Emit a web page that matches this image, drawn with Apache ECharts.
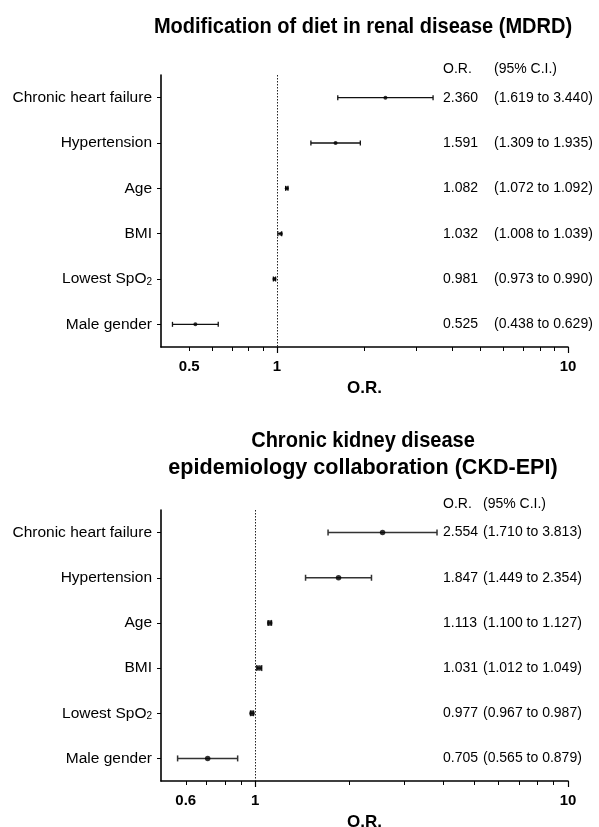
<!DOCTYPE html>
<html><head><meta charset="utf-8">
<script src="https://cdn.jsdelivr.net/npm/echarts@6/dist/echarts.min.js"></script>
<style>html,body{margin:0;padding:0;background:#fff}#c{width:599px;height:827px}</style>
</head><body><div id="c"></div>
<script>
// ---- data ----
const categories = ['Chronic heart failure', 'Hypertension', 'Age', 'BMI', 'Lowest SpO2', 'Male gender'];
const mdrdOR   = [2.360, 1.591, 1.082, 1.032, 0.981, 0.525];
const mdrdLow  = [1.619, 1.309, 1.072, 1.008, 0.973, 0.438];
const mdrdHigh = [3.440, 1.935, 1.092, 1.039, 0.990, 0.629];
const ckdOR    = [2.554, 1.847, 1.113, 1.031, 0.977, 0.705];
const ckdLow   = [1.710, 1.449, 1.100, 1.012, 0.967, 0.565];
const ckdHigh  = [3.813, 2.354, 1.127, 1.049, 0.987, 0.879];
const mdrdTickLabels = [0.5, 1, 10];
const mdrdMinorTicks = [0.5, 0.6, 0.7, 0.8, 0.9, 2, 3, 4, 5, 6, 7, 8, 9];
const ckdTickLabels  = [0.6, 1, 10];
const ckdMinorTicks  = [0.6, 0.7, 0.8, 0.9, 2, 3, 4, 5, 6, 7, 8, 9];
const majorTicks = [1, 10];
const titleTop = 'Modification of diet in renal disease (MDRD)';
const titleBottom = ['Chronic kidney disease', 'epidemiology collaboration (CKD-EPI)'];

const FONT = '"Liberation Sans", Arial, Helvetica, sans-serif';
const fmt = v => v.toFixed(3);

const chart = echarts.init(document.getElementById('c'), null, {renderer: 'canvas'});

function errorBars(xi, yi, lows, highs, cap, lw, color) {
  return {
    type: 'custom', xAxisIndex: xi, yAxisIndex: yi, silent: true, z: 3,
    data: categories.map((c, i) => [lows[i], highs[i], i]),
    encode: {x: [0, 1], y: 2},
    renderItem(params, api) {
      const y = api.value(2);
      const a = api.coord([api.value(0), y]);
      const b = api.coord([api.value(1), y]);
      const h = cap / 2;
      const style = {stroke: color, lineWidth: lw, fill: null};
      return {type: 'group', children: [
        {type: 'line', shape: {x1: a[0], y1: a[1], x2: b[0], y2: b[1]}, style},
        {type: 'line', shape: {x1: a[0], y1: a[1] - h, x2: a[0], y2: a[1] + h}, style},
        {type: 'line', shape: {x1: b[0], y1: b[1] - h, x2: b[0], y2: b[1] + h}, style}
      ]};
    }
  };
}
function points(xi, yi, vals, size) {
  return {
    type: 'scatter', xAxisIndex: xi, yAxisIndex: yi, symbol: 'circle', symbolSize: size, z: 4,
    itemStyle: {color: '#000'}, silent: true,
    data: categories.map((c, i) => [vals[i], i]),
    markLine: {
      silent: true, symbol: ['none', 'none'], label: {show: false},
      lineStyle: {type: [1.5, 1.5], color: '#222', width: 1},
      data: [{xAxis: 1}]
    }
  };
}
function mainX(grid, min, minor, labels) {
  return {
    type: 'log', logBase: 10, gridIndex: grid, min: min, max: 10, position: 'bottom',
    splitLine: {show: false},
    axisLine: {show: true, lineStyle: {color: '#000', width: 1.6}},
    axisTick: {show: true, customValues: minor, length: 4, lineStyle: {color: '#000', width: 1}},
    axisLabel: {show: true, customValues: labels, margin: 12, fontFamily: FONT, fontWeight: 'bold', fontSize: 15, color: '#000'},
    name: 'O.R.', nameLocation: 'middle', nameGap: 33,
    nameTextStyle: {fontFamily: FONT, fontWeight: 'bold', fontSize: 17, color: '#000'}
  };
}
function majorX(grid, min) {
  return {
    type: 'log', logBase: 10, gridIndex: grid, min: min, max: 10, position: 'bottom', offset: 0,
    splitLine: {show: false}, axisLine: {show: false},
    axisTick: {show: true, customValues: majorTicks, length: 6, lineStyle: {color: '#000', width: 1.2}},
    axisLabel: {show: false}
  };
}
const catLabel = v => v.replace('SpO2', 'SpO{sub|2}');
function leftY(grid) {
  return {
    type: 'category', gridIndex: grid, data: categories, inverse: true,
    axisLine: {show: true, lineStyle: {color: '#000', width: 1.6}},
    axisTick: {show: true, alignWithLabel: true, length: 4, lineStyle: {color: '#000'}},
    splitLine: {show: false},
    axisLabel: {margin: 9, color: '#000', fontFamily: FONT, fontSize: 15.5, formatter: catLabel,
      rich: {sub: {fontFamily: FONT, fontSize: 10, lineHeight: 10, verticalAlign: 'bottom', color: '#000'}}}
  };
}
function rightY(grid, ors, lows, highs, gapW, offset) {
  const rich = {
    a: {fontFamily: FONT, fontSize: 14, color: '#000', width: gapW},
    b: {fontFamily: FONT, fontSize: 14, color: '#000'}
  };
  return {
    type: 'category', gridIndex: grid, data: categories, inverse: true, position: 'right', offset: offset,
    axisLine: {show: false}, axisTick: {show: false}, splitLine: {show: false},
    axisLabel: {margin: 0, align: 'left', formatter: (v, i) => '{a|' + fmt(ors[i]) + '}{b|(' + fmt(lows[i]) + ' to ' + fmt(highs[i]) + ')}', rich},
    name: '{a|O.R.}{b|(95% C.I.)}', nameLocation: 'start', nameGap: -1,
    nameTextStyle: {align: 'left', verticalAlign: 'bottom', rich}
  };
}
const TITLE_FONT = 'bold 22px ' + FONT;
function titleText(text, y, sx) {
  return {type: 'text', x: 363, y: y, scaleX: sx,
    style: {text: text, font: TITLE_FONT, fill: '#000', textAlign: 'center', textVerticalAlign: 'middle'}};
}
const option = {
  animation: false,
  backgroundColor: '#fff',
  textStyle: {fontFamily: FONT},
  grid: [
    {left: 161, right: 31, top: 75, height: 272, outerBoundsMode: 'none'},
    {left: 161, right: 31, top: 510, height: 271, outerBoundsMode: 'none'}
  ],
  xAxis: [mainX(0, 0.4, mdrdMinorTicks, mdrdTickLabels), majorX(0, 0.4),
          mainX(1, 0.5, ckdMinorTicks, ckdTickLabels), majorX(1, 0.5)],
  yAxis: [leftY(0), rightY(0, mdrdOR, mdrdLow, mdrdHigh, 51, -125),
          leftY(1), rightY(1, ckdOR, ckdLow, ckdHigh, 40, -125)],
  series: [
    errorBars(0, 0, mdrdLow, mdrdHigh, 5, 1.3, '#111'),
    points(0, 0, mdrdOR, 4),
    errorBars(2, 2, ckdLow, ckdHigh, 6, 1.5, '#333'),
    points(2, 2, ckdOR, 5.5)
  ],
  graphic: [
    titleText(titleTop, 27, 0.91),
    titleText(titleBottom[0], 441, 0.91),
    titleText(titleBottom[1], 468, 0.98)
  ]
};
chart.setOption(option);
</script>
</body></html>
